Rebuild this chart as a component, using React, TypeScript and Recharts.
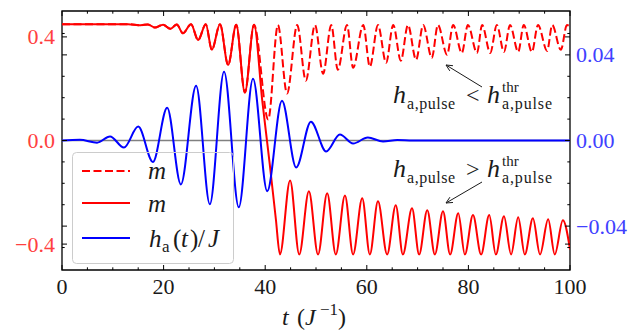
import React from 'react'
import { LineChart, Line, XAxis, YAxis, ReferenceLine, ReferenceArea, Legend, Customized } from 'recharts'

if (typeof document !== 'undefined') document.body.style.margin = '0'

// m(t) before the pulse splits the two runs (same for both)
const tShared = [0, 13, 15.5, 16.9, 18.3, 19.9, 21.3, 22.6, 23.8, 25.4, 26.8, 28.3, 29.5, 31.1, 32.7, 34.3, 36.0, 37.8]
const mShared = [0.449, 0.449, 0.445, 0.448, 0.436, 0.447, 0.431, 0.448, 0.414, 0.449, 0.388, 0.449, 0.35, 0.449, 0.292, 0.447, 0.185, 0.447]

// above threshold: m flips sign (solid)
const tAbove = [39.4, 40.9, 42.1, 42.9, 44.9, 46.7, 48.6, 50.4, 52.2, 53.9, 55.7, 57.3, 59.1, 60.6, 62.2, 64.0, 65.7, 67.1, 68.9, 70.3, 71.9, 73.4, 75.0, 76.4, 78.0, 79.3, 80.9, 82.5, 84.1, 85.4, 87.0, 88.4, 89.8, 91.1, 92.7, 94.1, 95.7, 97.0, 98.6, 100]
const mAbove = [0.158, -0.092, -0.304, -0.44, -0.154, -0.44, -0.196, -0.44, -0.204, -0.44, -0.212, -0.44, -0.223, -0.44, -0.235, -0.44, -0.25, -0.44, -0.262, -0.44, -0.269, -0.44, -0.273, -0.44, -0.281, -0.44, -0.288, -0.44, -0.288, -0.44, -0.292, -0.44, -0.296, -0.44, -0.3, -0.44, -0.304, -0.44, -0.308, -0.42]

// below threshold: m stays positive (dashed)
const tBelow = [40.6, 42.5, 44.3, 46.3, 48.0, 49.8, 51.4, 53.0, 54.3, 56.1, 57.3, 59.3, 60.6, 62.2, 63.8, 65.2, 66.7, 68.1, 69.7, 71.1, 72.8, 74.0, 75.8, 77.0, 78.7, 79.9, 81.7, 82.7, 84.3, 85.6, 87.0, 88.2, 89.8, 90.9, 92.5, 93.7, 95.5, 96.5, 98.2, 99.4, 100]
const mBelow = [0.081, 0.446, 0.181, 0.446, 0.231, 0.446, 0.258, 0.446, 0.273, 0.446, 0.281, 0.446, 0.285, 0.446, 0.3, 0.446, 0.308, 0.446, 0.312, 0.446, 0.319, 0.446, 0.331, 0.446, 0.338, 0.446, 0.338, 0.446, 0.338, 0.446, 0.342, 0.446, 0.342, 0.446, 0.342, 0.446, 0.346, 0.446, 0.35, 0.446, 0.44]

// pulse h_a(t)/J, right axis
const tPulse = [0, 3.5, 6.9, 9.45, 12.2, 15.0, 17.9, 20.7, 23.4, 26.4, 29.1, 31.9, 34.8, 37.6, 40.4, 43.3, 46.1, 49.0, 52.0, 54.7, 57.3, 60.2, 63.2, 66.0, 69.0, 100]
const hPulse = [0, 0.0003, -0.001, 0.0019, -0.0033, 0.0065, -0.01, 0.0153, -0.0205, 0.0256, -0.0298, 0.0321, -0.0312, 0.0288, -0.0237, 0.0186, -0.0126, 0.0088, -0.0051, 0.0028, -0.0014, 0.0014, -0.0005, 0.0002, 0, 0]

const tTicks = [0, 5, 10, 15, 20, 25, 30, 35, 40, 45, 50, 55, 60, 65, 70, 75, 80, 85, 90, 95, 100]
const mTicks = [-0.4, 0, 0.4]
const hTicks = [-0.05, -0.04, -0.03, -0.02, -0.01, 0, 0.01, 0.02, 0.03, 0.04, 0.05]

const toRows = (ts: number[], vs: number[], key: string) => ts.map((t, i) => ({ t, [key]: vs[i] }))
const belowRows = toRows([...tShared, ...tBelow], [...mShared, ...mBelow], 'm')
const aboveRows = toRows([...tShared, ...tAbove], [...mShared, ...mAbove], 'm')
const pulseRows = toRows(tPulse, hPulse, 'h')

const SERIF = "'Liberation Serif', 'Times New Roman', serif"
const RED = '#ff0000'
const BLUE = '#0000ff'
const INK = '#1a1a1a'
const PW = 508
const PH = 259
const H_MAX = 0.0605

const minus = (s: string) => s.replace('-', '\u2212')

function XTick({ x, y, payload }: any) {
  const v = payload.value
  const major = v % 20 === 0
  const len = major ? 5 : 2.7
  return (
    <g>
      <line x1={x} x2={x} y1={y} y2={y - len} stroke="#000" />
      <line x1={x} x2={x} y1={y - PH} y2={y - PH + len} stroke="#000" />
      {major && (
        <text x={x} y={y + 24} textAnchor="middle" fontSize={22} fontFamily={SERIF} fill={INK}>{v}</text>
      )}
    </g>
  )
}

function MTick({ x, y, payload }: any) {
  return (
    <g>
      <line x1={x} x2={x + 5} y1={y} y2={y} stroke="#000" />
      <line x1={x + PW} x2={x + PW - 5} y1={y} y2={y} stroke="#000" />
      <text x={x - 7} y={y + 7.5} textAnchor="end" fontSize={22} fontFamily={SERIF} fill="#ff4040">
        {minus(payload.value.toFixed(1))}
      </text>
    </g>
  )
}

function HTick({ x, y, payload }: any) {
  const v = payload.value
  const major = Math.round(v * 100) % 4 === 0
  const len = major ? 5 : 2.7
  return (
    <g>
      <line x1={x} x2={x - len} y1={y} y2={y} stroke="#000" />
      <line x1={x - PW} x2={x - PW + len} y1={y} y2={y} stroke="#000" />
      {major && (
        <text x={x + 6} y={y + 7.5} fontSize={22} fontFamily={SERIF} fill="#4040ff">
          {minus(v.toFixed(2))}
        </text>
      )}
    </g>
  )
}

function Arrow({ x1, y1, x2, y2 }: { x1: number; y1: number; x2: number; y2: number }) {
  const len = Math.hypot(x2 - x1, y2 - y1)
  const dx = (x2 - x1) / len
  const dy = (y2 - y1) / len
  const a = 0.45
  const L = 7
  const w1x = x2 - L * (dx * Math.cos(a) - dy * Math.sin(a))
  const w1y = y2 - L * (dx * Math.sin(a) + dy * Math.cos(a))
  const w2x = x2 - L * (dx * Math.cos(-a) - dy * Math.sin(-a))
  const w2y = y2 - L * (dx * Math.sin(-a) + dy * Math.cos(-a))
  return (
    <g stroke={INK} strokeWidth={1} fill="none">
      <line x1={x1} y1={y1} x2={x2} y2={y2} />
      <polyline points={`${w1x},${w1y} ${x2},${y2} ${w2x},${w2y}`} />
    </g>
  )
}

function Threshold({ y, rel }: { y: number; rel: string }) {
  return (
    <g fontFamily={SERIF} fill={INK}>
      <text x={393} y={y} fontSize={26} fontStyle="italic">h</text>
      <text x={407} y={y + 6} fontSize={16} textLength={48}>a,pulse</text>
      <text x={466} y={y} fontSize={24}>{rel}</text>
      <text x={487} y={y} fontSize={26} fontStyle="italic">h</text>
      <text x={502} y={y - 11} fontSize={15}>thr</text>
      <text x={502} y={y + 6} fontSize={16} textLength={50}>a,pulse</text>
    </g>
  )
}

function Notes() {
  return (
    <g>
      <Arrow x1={482} y1={87} x2={446} y2={65} />
      <Threshold y={103} rel="<" />
      <Arrow x1={482} y1={182} x2={446} y2={203} />
      <Threshold y={177} rel=">" />
      <text y={325} fontSize={24} fontFamily={SERIF} fill={INK}>
        <tspan x={282} fontStyle="italic">t</tspan>
        <tspan x={297}>(</tspan>
        <tspan x={305} fontStyle="italic">J</tspan>
        <tspan x={320} y={315} fontSize={17}>{'\u22121'}</tspan>
        <tspan x={338} y={325}>)</tspan>
      </text>
    </g>
  )
}

function LegendBox() {
  return (
    <svg width={162} height={112} style={{ display: 'block' }}>
      <rect x={0.5} y={0.5} width={161} height={111} rx={4} fill="none" stroke="#cccccc" />
      <line x1={10} x2={58} y1={19} y2={19} stroke={RED} strokeWidth={2} strokeDasharray="8 3.5" />
      <line x1={10} x2={58} y1={51} y2={51} stroke={RED} strokeWidth={2} />
      <line x1={10} x2={58} y1={86} y2={86} stroke={BLUE} strokeWidth={2} />
      <g fontFamily={SERIF} fill={INK} fontSize={25}>
        <text x={76} y={27} fontStyle="italic">m</text>
        <text x={76} y={60} fontStyle="italic">m</text>
        <text y={95}>
          <tspan x={77} fontStyle="italic">h</tspan>
          <tspan x={90} y={100} fontSize={17}>a</tspan>
          <tspan x={101} y={95}>(</tspan>
          <tspan x={109} fontStyle="italic">t</tspan>
          <tspan x={118}>)</tspan>
          <tspan x={126}>/</tspan>
          <tspan x={136} fontStyle="italic">J</tspan>
        </text>
      </g>
    </svg>
  )
}

export default function App() {
  return (
    <LineChart width={637} height={331} margin={{ top: 11, right: 0, bottom: 0, left: 0 }}>
      <XAxis
        type="number" dataKey="t" domain={[0, 100]} ticks={tTicks} interval={0}
        height={61} tickSize={0} tickMargin={0} axisLine={false} tickLine={false}
        tick={XTick} allowDataOverflow
      />
      <YAxis
        yAxisId="left" type="number" domain={[-0.5, 0.5]} ticks={mTicks} interval={0}
        width={62} tickSize={0} tickMargin={0} axisLine={false} tickLine={false}
        tick={MTick} allowDataOverflow
      />
      <YAxis
        yAxisId="right" orientation="right" type="number" domain={[-H_MAX, H_MAX]} ticks={hTicks} interval={0}
        width={67} tickSize={0} tickMargin={0} axisLine={false} tickLine={false}
        tick={HTick} allowDataOverflow
      />
      <ReferenceLine yAxisId="left" y={0} stroke="#808080" strokeWidth={1.5} />
      <Line yAxisId="left" data={belowRows} dataKey="m" type="monotone" stroke={RED} strokeWidth={2}
        strokeDasharray="8 3.5" dot={false} isAnimationActive={false} />
      <Line yAxisId="left" data={aboveRows} dataKey="m" type="monotone" stroke={RED} strokeWidth={2}
        dot={false} isAnimationActive={false} />
      <Line yAxisId="right" data={pulseRows} dataKey="h" type="monotone" stroke={BLUE} strokeWidth={2}
        dot={false} isAnimationActive={false} />
      <ReferenceArea yAxisId="left" x1={0} x2={100} y1={-0.5} y2={0.5} fill="none" stroke="#000"
        strokeWidth={1.3} ifOverflow="visible" />
      <Legend
        layout="vertical" align="center" verticalAlign="middle"
        wrapperStyle={{ left: 72, top: 152, width: 162, height: 112 }}
        content={() => <LegendBox />}
      />
      <Customized component={Notes} />
    </LineChart>
  )
}
